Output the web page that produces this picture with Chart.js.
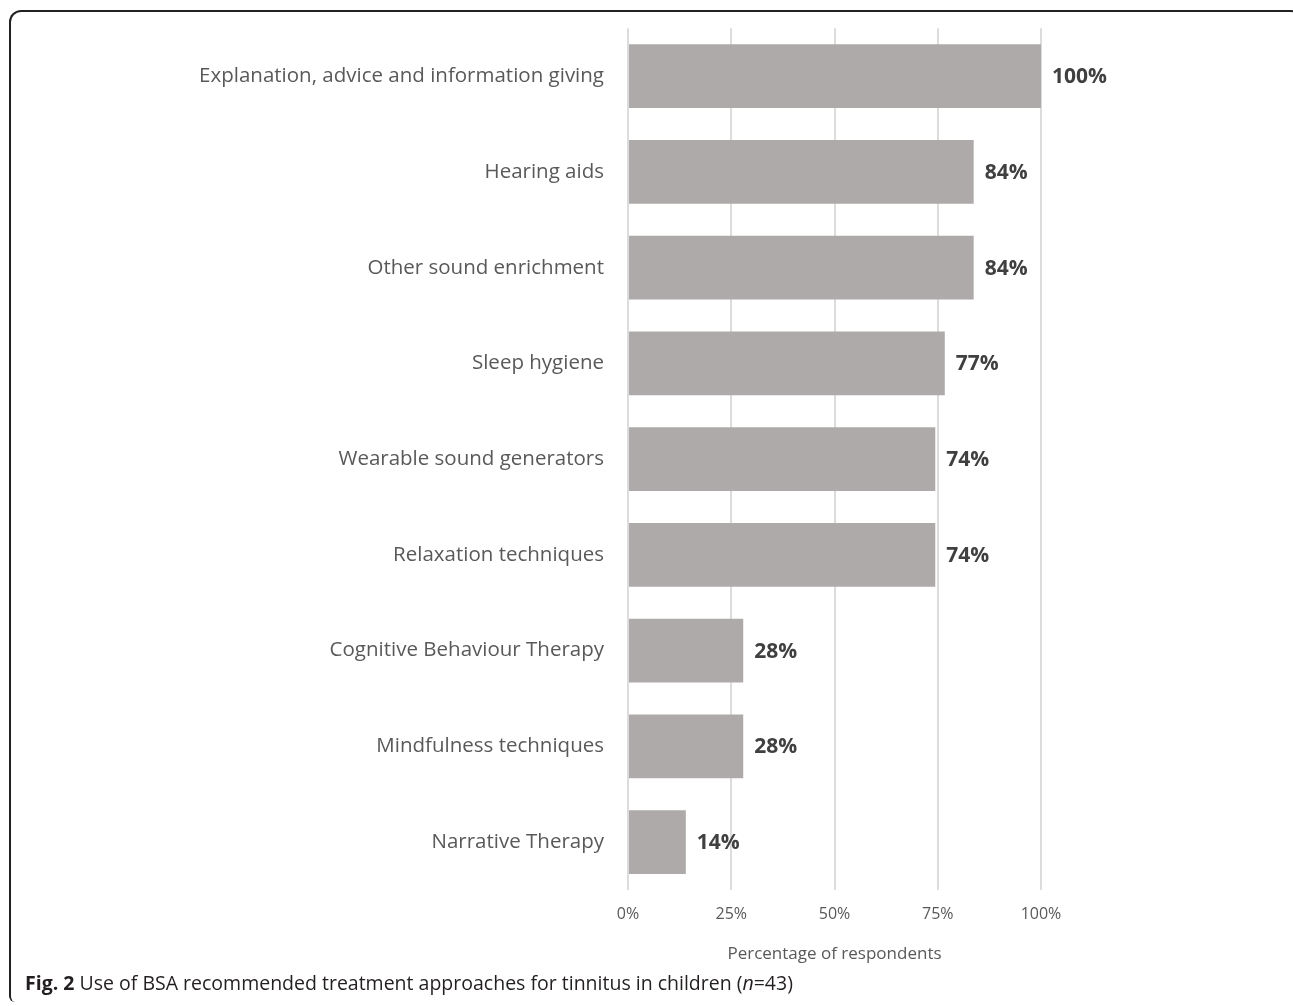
<!DOCTYPE html>
<html>
<head>
<meta charset="utf-8">
<script src="https://cdn.jsdelivr.net/npm/chart.js@4"></script>
<style>
    body { margin: 0; background: white; width: 1293px; height: 1006px; overflow: hidden; position: relative; }
    #frame {
        position: absolute; left: 9px; top: 10px; width: 1290px; height: 990px;
        border: 2px solid #222; border-bottom: none;
        border-radius: 12px 12px 0 6px;
    }
    #chartBox { position: absolute; left: 0; top: 0; width: 1293px; height: 975px; }
    #caption {
        position: absolute; left: 25px; top: 969px;
        font-family: "Open Sans", sans-serif; font-size: 19.5px; color: #231f20;
    }
</style>
</head>
<body>
<div id="frame"></div>
<div id="chartBox"><canvas id="treatmentChart"></canvas></div>
<div id="caption"><b>Fig. 2</b> Use of BSA recommended treatment approaches for tinnitus in children (<i>n</i>=43)</div>
<script>
// data (n=43)
const categories = [
    'Explanation, advice and information giving',
    'Hearing aids',
    'Other sound enrichment',
    'Sleep hygiene',
    'Wearable sound generators',
    'Relaxation techniques',
    'Cognitive Behaviour Therapy',
    'Mindfulness techniques',
    'Narrative Therapy'
]
const percentages = [100, 83.7, 83.7, 76.7, 74.4, 74.4, 27.9, 27.9, 14.0]
const tickLabels = ['0%', '25%', '50%', '75%', '100%']

const barColour = '#aeaaaa'
const textGrey = '#595959'

//Draws the percentage next to each bar
const valueLabels = {
    id: 'valueLabels',
    afterDatasetsDraw(chart) {
        const c = chart.ctx
        const meta = chart.getDatasetMeta(0)
        c.save()
        c.font = 'bold 21px "Open Sans", sans-serif'
        c.fillStyle = '#404040'
        c.textAlign = 'left'
        c.textBaseline = 'middle'
        meta.data.forEach((bar, i) => {
            c.fillText(Math.round(percentages[i]) + '%', bar.x + 11, bar.y + 1)
        })
        c.restore()
    }
}

const ctx = document.getElementById('treatmentChart')

new Chart(ctx, {
    type: 'bar',
    data: {
        labels: categories,
        datasets: [{
            data: percentages,
            backgroundColor: barColour,
            barPercentage: 0.667,
            categoryPercentage: 1
        }]
    },
    plugins: [valueLabels],
    options: {
        indexAxis: 'y',
        responsive: true,
        maintainAspectRatio: false,
        animation: false,
        layout: {
            padding: { top: 19, right: 252, left: 0, bottom: 0 }
        },
        plugins: {
            legend: { display: false },
            tooltip: { enabled: false }
        },
        scales: {
            y: {
                grid: { display: false },
                border: { display: false },
                ticks: {
                    color: textGrey,
                    font: { family: 'Open Sans', size: 20.5 },
                    padding: 16
                },
                afterFit: (scale) => { scale.width = 628 }
            },
            x: {
                min: 0,
                max: 100,
                grid: { color: '#dcdcdc', lineWidth: 2, drawTicks: false },
                border: { display: false },
                ticks: {
                    stepSize: 25,
                    color: textGrey,
                    font: { family: 'Open Sans', size: 16 },
                    padding: 15,
                    callback: (value, index) => tickLabels[index]
                },
                title: {
                    display: true,
                    text: 'Percentage of respondents',
                    color: textGrey,
                    font: { family: 'Open Sans', size: 17 },
                    padding: { top: 0, bottom: 11 }
                },
                afterFit: (scale) => { scale.height = 85 }
            }
        }
    }
});
</script>
</body>
</html>
